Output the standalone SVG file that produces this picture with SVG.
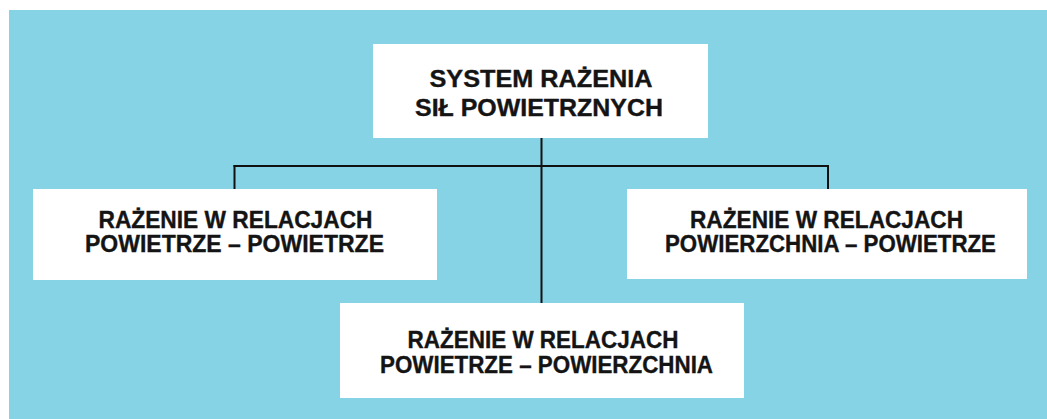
<svg xmlns="http://www.w3.org/2000/svg" width="1047" height="419" viewBox="0 0 1047 419">
<style>
.box{fill:#ffffff;}
.lbl{font-family:"Liberation Sans",Arial,sans-serif;font-weight:bold;font-size:23px;fill:#141414;stroke:#141414;stroke-width:0.35;text-anchor:middle;}
.conn{stroke:#111111;stroke-width:2;fill:none;stroke-linecap:square;}
</style>
<rect x="0" y="0" width="1047" height="419" fill="#ffffff"/>
<rect x="9" y="10" width="1038" height="409" fill="#86d3e6"/>
<g id="connectors">
<line class="conn" x1="541.5" y1="138" x2="541.5" y2="303"/>
<line class="conn" x1="234.5" y1="166" x2="828" y2="166"/>
<line class="conn" x1="234.5" y1="166" x2="234.5" y2="189"/>
<line class="conn" x1="828" y1="166" x2="828" y2="189"/>
</g>
<g id="node-system">
<rect class="box" x="373" y="44" width="335" height="94"/>
<text class="lbl" x="541" y="87" textLength="223" lengthAdjust="spacingAndGlyphs">SYSTEM RAŻENIA</text>
<text class="lbl" x="539" y="116" textLength="248" lengthAdjust="spacingAndGlyphs">SIŁ POWIETRZNYCH</text>
</g>
<g id="node-pp">
<rect class="box" x="33" y="189" width="404" height="91"/>
<text class="lbl" x="235.5" y="227.5" textLength="274" lengthAdjust="spacingAndGlyphs">RAŻENIE W RELACJACH</text>
<text class="lbl" x="234.5" y="251.5" textLength="299" lengthAdjust="spacingAndGlyphs">POWIETRZE – POWIETRZE</text>
</g>
<g id="node-spow">
<rect class="box" x="627" y="189" width="400" height="90"/>
<text class="lbl" x="826.5" y="227.5" textLength="273" lengthAdjust="spacingAndGlyphs">RAŻENIE W RELACJACH</text>
<text class="lbl" x="830.5" y="251.5" textLength="331" lengthAdjust="spacingAndGlyphs">POWIERZCHNIA – POWIETRZE</text>
</g>
<g id="node-ps">
<rect class="box" x="340" y="303" width="404" height="95"/>
<text class="lbl" x="543" y="348" textLength="271" lengthAdjust="spacingAndGlyphs">RAŻENIE W RELACJACH</text>
<text class="lbl" x="546.5" y="373" textLength="333" lengthAdjust="spacingAndGlyphs">POWIETRZE – POWIERZCHNIA</text>
</g>
</svg>
